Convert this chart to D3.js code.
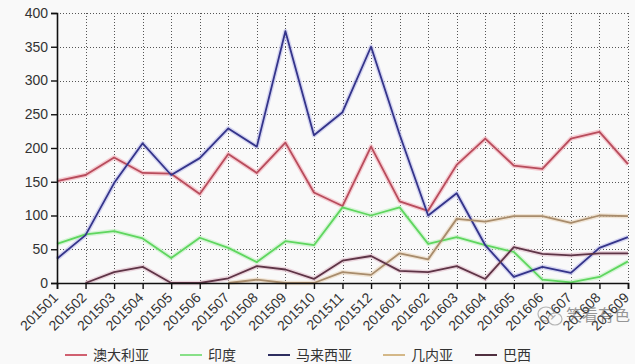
<!DOCTYPE html>
<html>
<head>
<meta charset="utf-8">
<script src="https://cdn.jsdelivr.net/npm/d3@7"></script>
<style>
  body { margin: 0; background: #f9f9f9; }
  svg { display: block; font-family: "Liberation Sans", Arial, sans-serif; }
  .grid line { stroke: #555; stroke-width: 1; stroke-dasharray: 1,2; }
</style>
</head>
<body>
<div id="chart"></div>
<script>
// months on the x axis
var months = ["201501","201502","201503","201504","201505","201506","201507","201508","201509","201510",
              "201511","201512","201601","201602","201603","201604","201605","201606","201607","201608","201609"];

// series values (null = no data)
var australia = [151,160,186,163,162,132,191,163,208,134,114,202,121,107,175,214,174,169,214,224,176];
var india     = [58,72,77,66,37,67,52,31,62,56,112,100,112,58,68,56,46,5,1,9,32];
var malaysia  = [36,71,148,207,160,185,229,202,373,219,253,350,220,100,133,56,9,24,15,52,68];
var guinea    = [null,null,null,null,null,null,0,5,0,0,16,12,44,35,95,91,99,99,89,100,99];
var brazil    = [null,0,16,24,0,0,7,25,20,6,33,40,18,16,25,6,53,43,41,44,44];

var seriesNames = ["澳大利亚","印度","马来西亚","几内亚","巴西"];
var yTicks = [0,50,100,150,200,250,300,350,400];

var series = [
    {name: seriesNames[0], values: australia, color: "#b84c5c", halo: "#f4b8c0", legend: "#d06070"},
    {name: seriesNames[1], values: india,     color: "#5fd65f", halo: "#c8f2c8", legend: "#88e088"},
    {name: seriesNames[2], values: malaysia,  color: "#34348a", halo: "#c4c4ec", legend: "#2e2e60"},
    {name: seriesNames[3], values: guinea,    color: "#a88c6c", halo: "#ecdcc4", legend: "#d4b888"},
    {name: seriesNames[4], values: brazil,    color: "#5e3446", halo: "#e4c4d0", legend: "#503040"}
];

var margin = {top: 13, right: 7, bottom: 81, left: 57};
var width = 635 - margin.left - margin.right,
    height = 364 - margin.top - margin.bottom;

var svg = d3.select("#chart").append("svg")
    .attr("width", 635)
    .attr("height", 364)
    .append("g")
    .attr("transform", "translate(" + margin.left + "," + margin.top + ")");

var x = d3.scalePoint()
    .domain(months)
    .range([0, width]);

var y = d3.scaleLinear()
    .domain([0, 400])
    .range([height, 0]);

// dotted grid
svg.append("g")
    .attr("class", "grid")
    .selectAll("line.h")
    .data(yTicks.slice(1))
    .enter()
    .append("line")
    .attr("x1", 0)
    .attr("x2", width)
    .attr("y1", function(d) { return Math.round(y(d)) + 0.5; })
    .attr("y2", function(d) { return Math.round(y(d)) + 0.5; });

svg.select(".grid")
    .selectAll("line.v")
    .data(months.slice(1))
    .enter()
    .append("line")
    .attr("x1", function(d) { return Math.round(x(d)) + 0.5; })
    .attr("x2", function(d) { return Math.round(x(d)) + 0.5; })
    .attr("y1", 0)
    .attr("y2", height);

// lines
var line = d3.line()
    .defined(function(d) { return d !== null; })
    .x(function(d, i) { return x(months[i]); })
    .y(function(d) { return y(d); });

series.forEach(function(s) {
    svg.append("path")
        .attr("fill", "none")
        .attr("stroke", s.halo)
        .attr("stroke-width", 4.5)
        .attr("stroke-opacity", 0.7)
        .attr("stroke-linejoin", "round")
        .attr("d", line(s.values));
});
series.forEach(function(s) {
    svg.append("path")
        .attr("fill", "none")
        .attr("stroke", s.color)
        .attr("stroke-width", 1.8)
        .attr("stroke-linejoin", "round")
        .attr("d", line(s.values));
});

// axes
var xAxis = d3.axisBottom(x).tickSize(6);
var yAxis = d3.axisLeft(y).tickValues(yTicks).tickSize(6).tickPadding(3);

var gx = svg.append("g")
    .attr("transform", "translate(0," + height + ")")
    .call(xAxis);
gx.selectAll("text")
    .attr("fill", "#333")
    .style("font-size", "14px")
    .style("text-anchor", "end")
    .attr("x", 0)
    .attr("y", 0)
    .attr("dy", "0.35em")
    .attr("transform", "translate(-2,12) rotate(-45)");

var gy = svg.append("g").call(yAxis);
gy.selectAll("text")
    .attr("fill", "#333")
    .style("font-size", "14px");

svg.selectAll(".domain").attr("stroke", "#111").attr("stroke-width", 1.6);
svg.selectAll(".tick line").attr("stroke", "#111").attr("stroke-width", 1.4);

// legend
var legendX = [65, 180, 268, 383, 475];
var legend = d3.select("svg").append("g")
    .attr("transform", "translate(0,355)");

legend.selectAll("line")
    .data(series)
    .enter()
    .append("line")
    .attr("x1", function(d, i) { return legendX[i]; })
    .attr("x2", function(d, i) { return legendX[i] + 22; })
    .attr("y1", 0)
    .attr("y2", 0)
    .attr("stroke", function(d) { return d.legend; })
    .attr("stroke-width", 2);

legend.selectAll("text")
    .data(series)
    .enter()
    .append("text")
    .attr("x", function(d, i) { return legendX[i] + 28; })
    .attr("y", 5)
    .style("font-family", "'Noto Sans CJK SC', sans-serif")
    .style("font-size", "14px")
    .attr("fill", "#333")
    .text(function(d) { return d.name; });

// watermark
var wm = d3.select("svg").append("g")
    .attr("transform", "translate(546,314)")
    .attr("opacity", 0.6);
wm.append("ellipse")
    .attr("cx", 0).attr("cy", 0).attr("rx", 8).attr("ry", 7)
    .attr("fill", "none").attr("stroke", "#888").attr("stroke-width", 1.2);
wm.append("ellipse")
    .attr("cx", 9).attr("cy", 5).attr("rx", 7).attr("ry", 6)
    .attr("fill", "#f9f9f9").attr("stroke", "#888").attr("stroke-width", 1.2);
wm.append("text")
    .attr("x", 20)
    .attr("y", 7)
    .style("font-family", "'Noto Sans CJK SC', sans-serif")
    .style("font-size", "16px")
    .attr("fill", "#555")
    .text("笑看有色");
</script>
</body>
</html>
